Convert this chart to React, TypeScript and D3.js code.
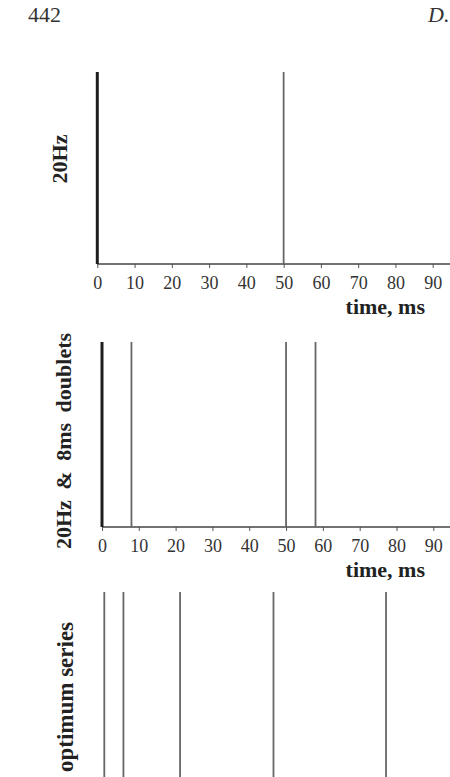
import React, { useEffect, useRef } from 'react';
import * as d3 from 'd3';

// ---- data ----
const tickValues = [0, 10, 20, 30, 40, 50, 60, 70, 80, 90];
const series20Hz = [0, 50];
const seriesDoublets = [0, 8, 50, 58];
const seriesOptimum = [0, 5.2, 20.6, 46, 76.6];
const panelLabels = ['20Hz', '20Hz & 8ms doublets', 'optimum series'];
const xAxisTitle = 'time, ms';
const pageNumber = '442';
const runningHead = 'D.';

// ---- layout ----
const W = 450;
const H = 777;
const SERIF = '"Liberation Serif", "Times New Roman", serif';

const panels = [
  { data: series20Hz, label: panelLabels[0], x0: 97.3, x90: 432.7, top: 72, bottom: 264, axis: true, labelX: 67, labelY: 159, boldFirst: true, wordSpacing: 0, labelSize: 22 },
  { data: seriesDoublets, label: panelLabels[1], x0: 102, x90: 433.3, top: 342, bottom: 527, axis: true, labelX: 71, labelY: 441, boldFirst: true, wordSpacing: 5, labelSize: 22 },
  { data: seriesOptimum, label: panelLabels[2], x0: 104.3, x90: 435.3, top: 592, bottom: H + 5, axis: false, labelX: 72.5, labelY: 697, boldFirst: false, wordSpacing: 0, labelSize: 23 },
];

export default function App() {
  const ref = useRef<SVGSVGElement | null>(null);

  useEffect(() => {
    const svg = d3.select(ref.current);
    svg.selectAll('*').remove();

    svg.append('rect').attr('width', W).attr('height', H).attr('fill', '#fff');

    svg.append('text')
      .attr('x', 28).attr('y', 22)
      .attr('font-family', SERIF).attr('font-size', 22).attr('fill', '#333')
      .text(pageNumber);
    svg.append('text')
      .attr('x', 428).attr('y', 22)
      .attr('font-family', SERIF).attr('font-size', 22).attr('font-style', 'italic').attr('fill', '#333')
      .text(runningHead);

    panels.forEach((p) => {
      const x = d3.scaleLinear().domain([0, 90]).range([p.x0, p.x90]);
      const g = svg.append('g');

      if (p.axis) {
        const axis = d3.axisBottom(x)
          .tickValues(tickValues)
          .tickSize(4)
          .tickSizeOuter(0)
          .tickPadding(8)
          .tickFormat(d3.format('d'));
        const ag = g.append('g')
          .attr('transform', `translate(0,${p.bottom})`)
          .call(axis)
          .attr('font-family', SERIF)
          .attr('font-size', 18);
        ag.select('.domain').remove();
        ag.append('line')
          .attr('x1', x(0)).attr('x2', W)
          .attr('stroke', '#444').attr('stroke-width', 1.5);
        ag.selectAll('.tick line').attr('stroke', '#555').attr('stroke-width', 1);
        ag.selectAll('.tick text').attr('fill', '#333');

        g.append('text')
          .attr('x', 425).attr('y', p.bottom + 50)
          .attr('text-anchor', 'end')
          .attr('font-family', SERIF).attr('font-size', 22).attr('font-weight', 'bold').attr('fill', '#222')
          .text(xAxisTitle);
      }

      g.selectAll('line.spike')
        .data(p.data)
        .join('line')
        .attr('class', 'spike')
        .attr('x1', (d) => x(d)).attr('x2', (d) => x(d))
        .attr('y1', p.top).attr('y2', p.bottom)
        .attr('stroke', (d, i) => (p.boldFirst && i === 0 ? '#1e1e1e' : '#666'))
        .attr('stroke-width', (d, i) => (p.boldFirst && i === 0 ? 3 : 1.8));

      g.append('text')
        .attr('transform', `translate(${p.labelX},${p.labelY}) rotate(-90)`)
        .attr('text-anchor', 'middle')
        .attr('font-family', SERIF).attr('font-size', p.labelSize).attr('font-weight', 'bold').attr('fill', '#222')
        .style('word-spacing', `${p.wordSpacing}px`)
        .text(p.label);
    });
  }, []);

  return (
    <svg
      ref={ref}
      width={W}
      height={H}
      style={{ position: 'absolute', left: 0, top: 0, display: 'block' }}
    />
  );
}
